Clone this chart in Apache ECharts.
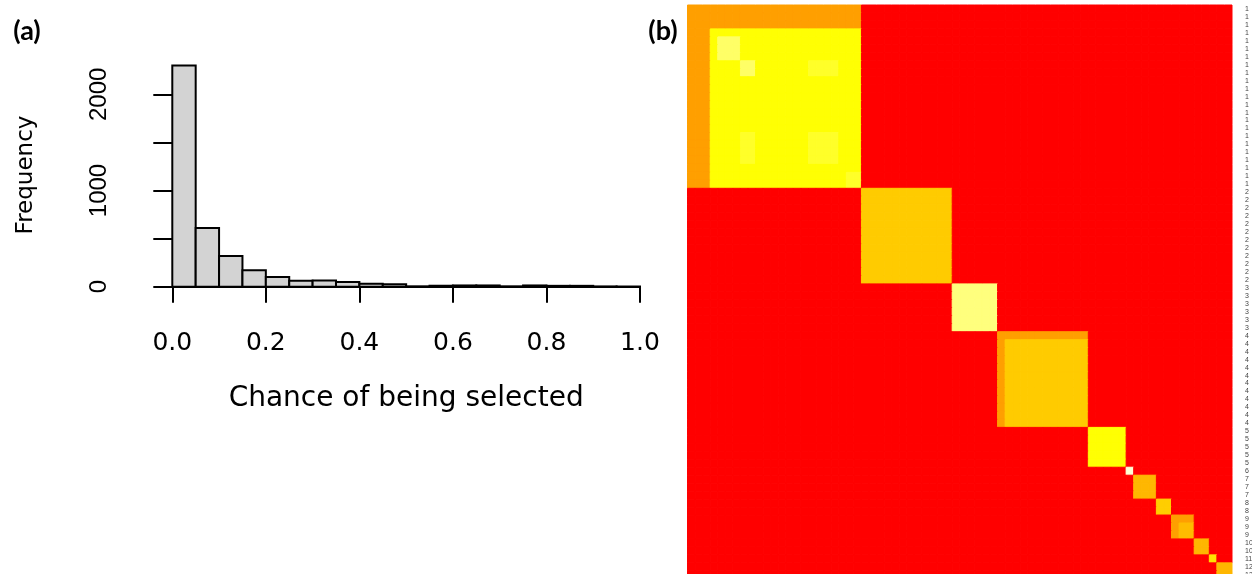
<!DOCTYPE html>
<html>
<head>
<meta charset="utf-8">
<script src="https://cdn.jsdelivr.net/npm/echarts@6/dist/echarts.min.js"></script>
<style>
html,body{margin:0;padding:0;background:#fff;}
#chart{width:1252px;height:574px;}
</style>
</head>
<body>
<div id="chart"></div>
<script>
// ---------- Panel (a): histogram ----------
const binStart = [0.00,0.05,0.10,0.15,0.20,0.25,0.30,0.35,0.40,0.45,0.50,0.55,0.60,0.65,0.70,0.75,0.80,0.85,0.90,0.95];
const binEnd   = [0.05,0.10,0.15,0.20,0.25,0.30,0.35,0.40,0.45,0.50,0.55,0.60,0.65,0.70,0.75,0.80,0.85,0.90,0.95,1.00];
const counts   = [2300,610,320,170,101,62,64,50,30,26,4,10,13,13,4,13,9,9,3,2];
const xTickFmt = 1;            // decimals of x tick labels
const yLabelledTicks = [0,1000,2000];

// ---------- Panel (b): co-clustering heatmap ----------
const rowLabels = [
 '1','1','1','1','1','1','1','1','1','1','1','1','1','1','1','1','1','1','1','1','1','1','1',
 '2','2','2','2','2','2','2','2','2','2','2','2',
 '3','3','3','3','3','3',
 '4','4','4','4','4','4','4','4','4','4','4','4',
 '5','5','5','5','5',
 '6',
 '7','7','7',
 '8','8',
 '9','9','9',
 '10','10',
 '11',
 '12','12'
];
// within-cluster co-selection level per cluster id
const clusterLevel = {'1':0.67,'2':0.53,'3':0.83,'4':0.53,'5':0.67,'6':0.98,'7':0.48,'8':0.54,'9':0.49,'10':0.48,'11':0.60,'12':0.48};
const betweenLevel = 0;
// sub-structure: [rowFrom,rowTo,colFrom,colTo,value]
const patches = [
 [0,2,0,22,0.415],[0,22,0,2,0.415],
 [4,6,4,6,0.80],[7,8,7,8,0.80],
 [7,8,16,19,0.72],[16,19,7,8,0.72],[16,19,16,19,0.72],[21,22,21,22,0.72],
 [41,41,41,52,0.415],[41,52,41,41,0.415],
 [64,64,64,66,0.415],[64,66,64,64,0.415]
];
const heatColors = ['#FF0000','#FF4000','#FF8000','#FFBF00','#FFFF00','#FFFF80','#FFFFE0'];

// build matrix
const n = rowLabels.length;
const M = [];
for (let r = 0; r < n; r++) {
  M.push([]);
  for (let c = 0; c < n; c++) {
    M[r].push(rowLabels[r] === rowLabels[c] ? clusterLevel[rowLabels[r]] : betweenLevel);
  }
}
patches.forEach(p => {
  for (let r = p[0]; r <= p[1]; r++) for (let c = p[2]; c <= p[3]; c++) M[r][c] = p[4];
});
const heatData = [];
for (let r = 0; r < n; r++) for (let c = 0; c < n; c++) heatData.push([c, r, M[r][c]]);
const colCats = rowLabels.map((_, i) => String(i));

const histData = binStart.map((s, i) => [s, binEnd[i], counts[i]]);

const chart = echarts.init(document.getElementById('chart'), null, {renderer: 'canvas'});
chart.setOption({
  animation: false,
  backgroundColor: '#fff',
  grid: [
    {left: 172.3, top: 94.3, width: 467.7, height: 192.4, containLabel: false, outerBoundsMode: 'none'},
    {left: 687.5, top: 5, width: 544.5, height: 573.8, containLabel: false, outerBoundsMode: 'none'}
  ],
  xAxis: [
    {
      gridIndex: 0, type: 'value', min: 0, max: 1, interval: 0.2, offset: 10,
      axisLine: {show: true, lineStyle: {color: '#000', width: 2}},
      axisTick: {show: true, length: 16, lineStyle: {color: '#000', width: 2}},
      splitLine: {show: false},
      axisLabel: {fontFamily: 'DejaVu Sans', fontSize: 25, color: '#000', margin: 34,
                  formatter: v => v.toFixed(xTickFmt)},
      name: 'Chance of being selected', nameLocation: 'middle', nameGap: 88,
      nameTextStyle: {fontFamily: 'DejaVu Sans', fontSize: 28, color: '#000'}
    },
    {
      gridIndex: 1, type: 'category', data: colCats, show: false
    }
  ],
  yAxis: [
    {
      gridIndex: 0, type: 'value', min: 0, max: 2000, interval: 500, offset: 18.3,
      axisLine: {show: true, lineStyle: {color: '#000', width: 2}},
      axisTick: {show: true, length: 19, lineStyle: {color: '#000', width: 2}},
      splitLine: {show: false},
      axisLabel: {fontFamily: 'Liberation Sans', fontSize: 24, color: '#000', margin: 43, rotate: 90,
                  formatter: v => yLabelledTicks.indexOf(v) >= 0 ? String(v) : ''}
    },
    {
      gridIndex: 1, type: 'category', data: rowLabels, inverse: true, position: 'right',
      axisLine: {show: false}, axisTick: {show: false}, splitLine: {show: false},
      axisLabel: {interval: 0, fontFamily: 'Liberation Sans', fontSize: 7, color: '#444', margin: 13}
    }
  ],
  visualMap: {
    show: false, type: 'continuous', min: 0, max: 1, dimension: 2, seriesIndex: 1,
    inRange: {color: heatColors}
  },
  graphic: [
    {type: 'text', x: 27, y: 31, style: {text: '(a)', fontFamily: 'Lato', fontWeight: 'bold', fontSize: 27, fill: '#000', align: 'center', verticalAlign: 'middle'}},
    {type: 'text', x: 663, y: 31, style: {text: '(b)', fontFamily: 'Lato', fontWeight: 'bold', fontSize: 27, fill: '#000', align: 'center', verticalAlign: 'middle'}},
    {type: 'text', x: 26, y: 175, rotation: Math.PI / 2, style: {text: 'Frequency', fontFamily: 'DejaVu Sans', fontSize: 23, fill: '#000', align: 'center', verticalAlign: 'middle'}}
  ],
  series: [
    {
      type: 'custom', xAxisIndex: 0, yAxisIndex: 0, data: histData,
      encode: {x: [0, 1], y: 2},
      renderItem: function (params, api) {
        const p0 = api.coord([api.value(0), api.value(2)]);
        const p1 = api.coord([api.value(1), 0]);
        return {
          type: 'rect',
          shape: {x: p0[0], y: p0[1], width: p1[0] - p0[0], height: p1[1] - p0[1]},
          style: {fill: '#D3D3D3', stroke: '#000', lineWidth: 2}
        };
      }
    },
    {
      type: 'custom', xAxisIndex: 1, yAxisIndex: 1, data: heatData,
      encode: {x: 0, y: 1}, progressive: 0,
      renderItem: function (params, api) {
        const p = api.coord([api.value(0), api.value(1)]);
        const s = api.size([1, 1]);
        const col = api.visual('color');
        return {
          type: 'rect',
          shape: {x: p[0] - s[0] / 2, y: p[1] - s[1] / 2, width: s[0], height: s[1]},
          style: {fill: col, stroke: col, lineWidth: 1.0}
        };
      }
    }
  ]
});
</script>
</body>
</html>
